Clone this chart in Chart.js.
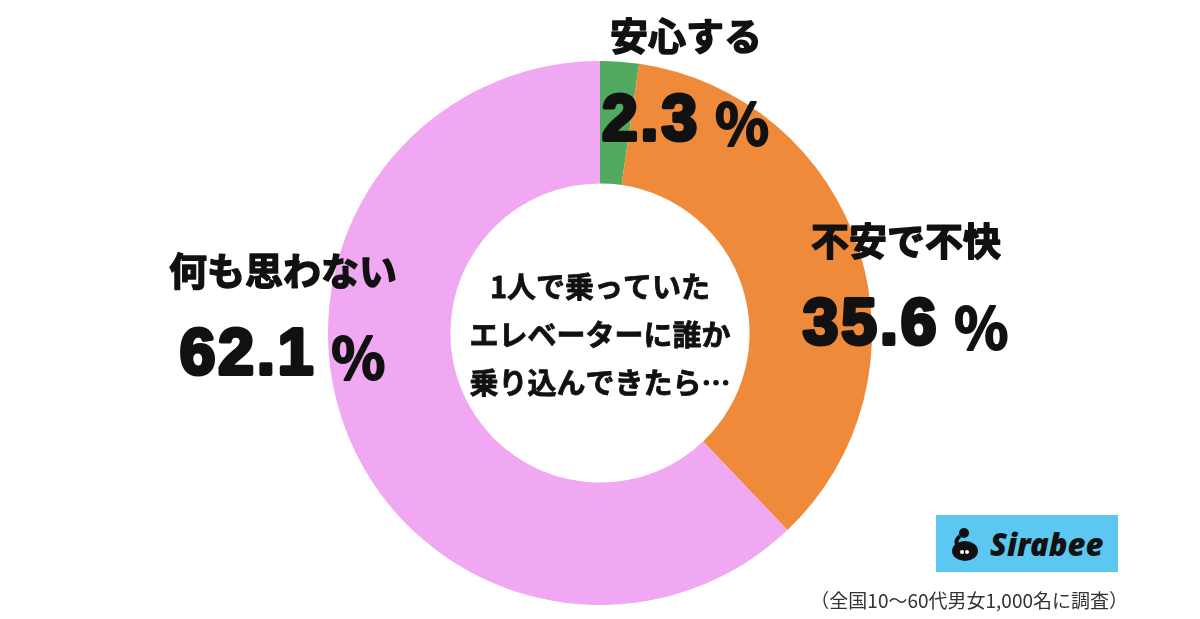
<!DOCTYPE html>
<html>
<head>
<meta charset="utf-8">
<script src="https://cdn.jsdelivr.net/npm/chart.js@4/dist/chart.umd.min.js"></script>
<style>
  html, body { margin: 0; padding: 0; background: #fff; }
  #wrap { position: relative; width: 1200px; height: 619px; }
  .logo {
    position: absolute; left: 936px; top: 515px; width: 182px; height: 57px;
    background: #5cc8f2;
  }
  .logo .mark {
    position: absolute; left: 14px; top: 12px; width: 32px; height: 34px;
  }
  .logo .word {
    position: absolute; left: 54px; top: 8px;
    font-family: "Noto Sans", sans-serif; font-weight: 900; font-style: italic;
    font-size: 31px; color: #111;
  }
  .note {
    position: absolute; right: 72px; top: 586px;
    font-family: "Noto Sans CJK JP", sans-serif; font-size: 19px; color: #333;
  }
</style>
</head>
<body>
<div id="wrap">
  <canvas id="chart" width="1200" height="619"></canvas>
  <div class="logo">
    <svg class="mark" viewBox="0 0 32 34">
      <circle cx="14" cy="6" r="5" fill="#111"/>
      <path d="M10 9 Q4 14 8 18" stroke="#111" stroke-width="4" fill="none"/>
      <ellipse cx="15" cy="24" rx="13" ry="10" fill="#111"/>
      <circle cx="12" cy="25" r="2" fill="#fff"/>
      <circle cx="17" cy="25" r="2" fill="#fff"/>
    </svg>
    <div class="word">Sirabee</div>
  </div>
  <div class="note">（全国10～60代男女1,000名に調査）</div>
</div>
<script>
const categories = ['安心する', '不安で不快', '何も思わない'];
const percents = [2.3, 35.6, 62.1];
const colors = ['#52a960', '#ef8a3a', '#f0a8f2'];
const centerLines = ['1人で乗っていた', 'エレベーターに誰か', '乗り込んできたら…'];

// label positions (name line / value line)
const labelPos = [
  { x: 686, y1: 36, y2: 122 },
  { x: 906, y1: 241, y2: 326 },
  { x: 283, y1: 271, y2: 356 }
];

const labelPlugin = {
  id: 'labels',
  afterDraw(chart) {
    const ctx = chart.ctx;
    const arc = chart.getDatasetMeta(0).data[0];
    ctx.save();
    ctx.fillStyle = '#111';
    ctx.strokeStyle = '#111';
    ctx.lineJoin = 'round';
    ctx.textAlign = 'center';
    ctx.textBaseline = 'middle';

    // centre question
    ctx.font = 'bold 29px "Noto Sans CJK JP"';
    ctx.lineWidth = 0.8;
    centerLines.forEach((t, i) => {
      ctx.fillText(t, arc.x, arc.y - 46 + i * 48);
      ctx.strokeText(t, arc.x, arc.y - 46 + i * 48);
    });

    categories.forEach((name, i) => {
      const p = labelPos[i];
      ctx.textAlign = 'center';
      ctx.letterSpacing = '0px';
      ctx.font = 'bold 38px "Noto Sans CJK JP"';
      ctx.lineWidth = 1.5;
      ctx.fillText(name, p.x, p.y1);
      ctx.strokeText(name, p.x, p.y1);

      const num = percents[i].toFixed(1);
      ctx.letterSpacing = '3px';
      ctx.font = 'bold 64px "Liberation Sans"';
      const numW = ctx.measureText(num).width;
      ctx.letterSpacing = '0px';
      ctx.font = 'bold 56px "Noto Sans CJK JP"';
      const pctW = ctx.measureText('％').width;
      const gap = 14;
      const left = p.x - (numW + gap + pctW) / 2;
      ctx.textAlign = 'left';
      ctx.letterSpacing = '3px';
      ctx.font = 'bold 64px "Liberation Sans"';
      ctx.lineWidth = 4;
      ctx.fillText(num, left, p.y2);
      ctx.strokeText(num, left, p.y2);
      ctx.letterSpacing = '0px';
      ctx.font = 'bold 56px "Noto Sans CJK JP"';
      ctx.lineWidth = 2;
      ctx.fillText('％', left + numW + gap, p.y2 + 2);
      ctx.strokeText('％', left + numW + gap, p.y2 + 2);
    });
    ctx.restore();
  }
};

new Chart(document.getElementById('chart'), {
  type: 'doughnut',
  data: {
    labels: categories,
    datasets: [{
      data: percents,
      backgroundColor: colors,
      borderWidth: 0
    }]
  },
  options: {
    responsive: false,
    animation: false,
    cutout: '55%',
    layout: { padding: { top: 61, bottom: 14, left: 0, right: 0 } },
    plugins: {
      legend: { display: false },
      tooltip: { enabled: false }
    }
  },
  plugins: [labelPlugin]
});
</script>
</body>
</html>
